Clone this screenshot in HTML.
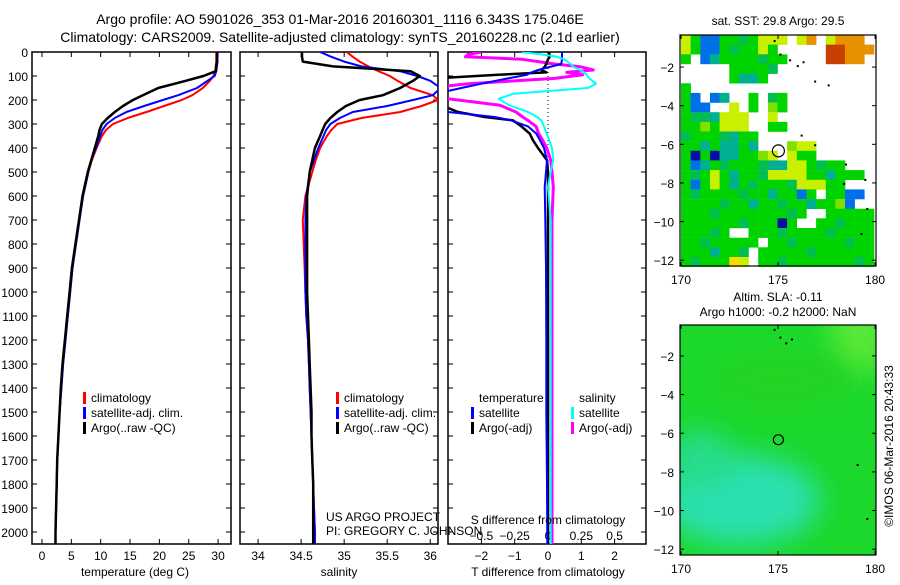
<!DOCTYPE html>
<html><head><meta charset="utf-8"><style>
body{margin:0;background:#fff;font-family:"Liberation Sans",sans-serif}
svg text{font-family:"Liberation Sans",sans-serif;fill:#000}
</style></head><body>
<svg id="c" width="900" height="580" viewBox="0 0 900 580" xmlns="http://www.w3.org/2000/svg">
<defs>
<clipPath id="cp1"><rect x="32" y="52" width="199" height="492"/></clipPath>
<clipPath id="cp2"><rect x="240" y="52" width="198" height="492"/></clipPath>
<clipPath id="cp3"><rect x="448" y="52" width="198" height="492"/></clipPath>
<clipPath id="cpm2"><rect x="680" y="325" width="196" height="230"/></clipPath>
<filter id="blur" x="-50%" y="-50%" width="200%" height="200%"><feGaussianBlur stdDeviation="14"/></filter>
</defs>
<text x="340" y="24" text-anchor="middle" font-size="14">Argo profile: AO 5901026_353 01-Mar-2016 20160301_1116 6.343S 175.046E</text>
<text x="340" y="42" text-anchor="middle" font-size="14">Climatology: CARS2009. Satellite-adjusted climatology: synTS_20160228.nc (2.1d earlier)</text>
<g id="g"></g>
</svg>
<script>
// ---------- data ----------
const depths = [0,20,40,60,80,100,120,150,180,200,225,250,275,300,325,350,400,450,500,600,700,800,900,1000,1100,1200,1300,1400,1500,1600,1700,1800,1900,2000,2050];
const tempClim = [29.7,29.7,29.7,29.6,29.5,29.2,28.6,27.4,25.6,23.8,20.8,17.8,14.6,12.1,10.9,10.2,9.3,8.5,7.9,7.0,6.4,5.8,5.2,4.8,4.4,4.0,3.6,3.3,3.0,2.8,2.6,2.5,2.4,2.3,2.3];
const tempSat  = [29.9,29.9,29.9,29.8,29.7,29.4,28.2,26.4,23.2,20.6,17.4,14.4,12.4,11.0,10.3,9.9,9.2,8.4,7.9,7.0,6.4,5.8,5.2,4.8,4.4,4.0,3.6,3.3,3.0,2.8,2.6,2.5,2.4,2.3,2.3];
const tempArgo = [29.8,29.8,29.8,29.7,29.6,27.5,24.5,19.8,17.2,15.5,13.8,12.4,11.2,10.2,9.8,9.6,9.0,8.4,7.8,6.9,6.3,5.7,5.1,4.7,4.3,3.9,3.5,3.2,3.0,2.8,2.6,2.5,2.4,2.3,2.3];
const salClim = [35.03,35.10,35.18,35.28,35.40,35.53,35.62,35.77,36.03,36.09,35.90,35.65,35.20,34.92,34.85,34.80,34.72,34.67,34.63,34.55,34.52,34.53,34.54,34.55,34.56,34.58,34.59,34.60,34.61,34.62,34.63,34.64,34.65,34.66,34.66];
const salSat  = [34.72,34.85,35.00,35.20,35.65,35.85,36.00,36.12,36.03,35.80,35.50,35.10,34.95,34.84,34.79,34.76,34.70,34.65,34.60,34.56,34.55,34.55,34.55,34.55,34.56,34.58,34.59,34.60,34.61,34.62,34.63,34.64,34.65,34.66,34.66];
const salArgo = [34.51,34.51,34.52,34.87,35.77,35.88,35.80,35.65,35.45,35.18,35.02,34.92,34.84,34.78,34.75,34.72,34.66,34.63,34.60,34.57,34.57,34.57,34.57,34.57,34.58,34.59,34.60,34.61,34.62,34.62,34.63,34.64,34.64,34.64,34.64];
const dDepths = [0,10,20,30,50,62,75,85,95,110,132,150,174,195,222,250,271,285,310,340,368,400,451,500,562,700,900,1200,1500,1800,2050];
const tDiffSat  = [0.42,0.42,0.42,0.42,0.40,0.06,-0.3,-0.5,-0.63,-1.2,-2.0,-2.6,-3.4,-3.4,-3.4,-3.0,-1.6,-1.1,-0.6,-0.35,-0.24,-0.12,-0.03,-0.06,-0.1,-0.08,-0.06,-0.05,-0.05,-0.03,-0.02];
const tDiffArgo = [0.0,0.05,0.05,0.0,-0.05,-0.1,-0.2,-0.05,-1.5,-3.4,-3.4,-3.4,-3.4,-3.4,-3.2,-2.7,-1.9,-1.05,-0.8,-0.55,-0.45,-0.3,-0.03,0.0,0.0,0.0,0.0,0.0,0.0,0.0,0.0];
const sDiffSat  = [-0.2,-0.05,0.07,0.12,0.17,0.19,0.24,0.27,0.29,0.31,0.36,0.30,-0.26,-0.37,-0.29,-0.15,-0.08,-0.05,-0.03,-0.01,0.01,0.03,0.04,0.02,0.0,0.02,0.02,0.02,0.02,0.02,0.02];
const sDiffArgo = [-0.5,-0.6,-0.62,-0.2,0.05,0.25,0.34,0.14,0.26,0.05,-0.6,-0.9,-0.9,-0.75,-0.36,-0.24,-0.19,-0.15,-0.09,-0.07,-0.04,-0.01,0.02,0.03,0.04,0.03,0.03,0.03,0.03,0.03,0.03];
const depthTicks = [0,100,200,300,400,500,600,700,800,900,1000,1100,1200,1300,1400,1500,1600,1700,1800,1900,2000];
const tempTicks = [0,5,10,15,20,25,30];
const salTicks = [34,34.5,35,35.5,36];
const salTickLabels = ["34","34.5","35","35.5","36"];
const tdTicks = [-2,-1,0,1,2];
const sdTicks = [-0.5,-0.25,0,0.25,0.5];
const sdTickLabels = ["\u22120.5","\u22120.25","0","0.25","0.5"];
const mapLonTicks = [170,175,180];
const mapLatTicks = [-2,-4,-6,-8,-10,-12];
const sstRows = [
"ygbbgghgyyywyowyooow",
"ygbbghggygwwwwwrrooo",
"gwbtgggghggwwwwrroow",
"wwwwwgggghwwwwwwwwww",
"wwwwwgttgwwwwwwwwwww",
"gwwwwwwwwwwwwwwwwwww",
"gbwbtwwgwhgwwwwwwwww",
"gbbwwywgwlgwwwwwwwww",
"ghhtyyywwywwwwwwwwww",
"gglgyyywwggwwwwwwwww",
"hggghtggwwwwwwwwwwww",
"ggtgttgtwwwlyywwwwww",
"gdgdttgglywyggwwwwww",
"gbtghggghttyyghggwww",
"ghgygtgghyyyyggtgggw",
"gbgygtghggghyyyggwww",
"ghgggghggtggbgwggbbw",
"gggghggtgghggtgglbww",
"ggghggggggghgwwggggg",
"gggggghgggdgwwgghggg",
"ggghgwwggghgggghgggg",
"gghgggggwgghggggghgg",
"gggtgghwggggghgggggg",
"ghgggeywgghggggggghg"];
const sstPalette = {g:"#00d400",h:"#00bf50",t:"#00b090",y:"#c8f000",l:"#80e000",b:"#0070e8",d:"#0010a0",o:"#e89000",r:"#c84000",e:"#ffd800"};
const argoLon = 175.046, argoLat = -6.343;
const coastPts = [[174.8,-0.6],[175.1,-1.3],[175.6,-1.6],[176.0,-1.9],[176.3,-1.7],[176.9,-2.7],[177.6,-2.9],[176.2,-5.5],[176.9,-6.0],[178.5,-7.0],[179.5,-7.8],[179.6,-9.3],[179.3,-10.6],[178.4,-8.0]];
const slaCoastPts = [[174.8,-0.6],[175.1,-1.0],[175.4,-1.3],[175.7,-1.1],[179.1,-7.6],[179.6,-10.4]];

// ---------- helpers ----------
const NS="http://www.w3.org/2000/svg";
const G=document.getElementById('g');
function mk(tag,attrs,parent){const e=document.createElementNS(NS,tag);for(const k in attrs)e.setAttribute(k,attrs[k]);(parent||G).appendChild(e);return e;}
function txt(x,y,s,size,anchor,parent){const t=mk('text',{x:x,y:y,'font-size':size,'text-anchor':anchor||'start'},parent);t.textContent=s;return t;}
const yD = d => 52 + (d/2050)*492;
const xT = v => 32 + (v+1.7)/33.9*199;
const xS = v => 240 + (v-33.79)/2.3*198;
const xTD = v => 548 + v*33.3;
const xSD = v => 548 + v*133.3;

function panelFrame(x0,w,name){
  const r=mk('rect',{x:x0,y:52,width:w,height:492,fill:'none',stroke:'#000','stroke-width':1.5});
  
  
  depthTicks.forEach(d=>{
    mk('line',{x1:x0,x2:x0+5,y1:yD(d),y2:yD(d),stroke:'#000'});
    mk('line',{x1:x0+w-5,x2:x0+w,y1:yD(d),y2:yD(d),stroke:'#000'});
  });
}
function line(xs,ys,fx,color,w,clip,name){
  const p=xs.map((v,i)=>(i?'L':'M')+fx(v).toFixed(1)+','+yD(ys[i]).toFixed(1)).join('');
  const e=mk('path',{d:p,fill:'none',stroke:color,'stroke-width':w,'clip-path':'url(#'+clip+')','stroke-linejoin':'round'});
  
  
}
function legend(x,y,items){
  items.forEach((it,i)=>{
    if(it[0]) mk('rect',{x:x,y:y+i*15-10,width:3,height:12,fill:it[0]});
    const t=txt(x+8,y+i*15,it[1],12);
    
    
  });
}

depthTicks.forEach(d=>{const t=txt(28,yD(d)+5,String(d),12,'end');

});

// panel 1 temperature
panelFrame(32,199,'temperature-panel');
tempTicks.forEach(v=>{mk('line',{x1:xT(v),x2:xT(v),y1:544,y2:539,stroke:'#000'});mk('line',{x1:xT(v),x2:xT(v),y1:52,y2:57,stroke:'#000'});
const t=txt(xT(v),560,String(v),12,'middle');

});
line(tempClim,depths,xT,'#f00',2,'cp1','temp-climatology-line');
line(tempSat,depths,xT,'#00f',2,'cp1','temp-satellite-line');
line(tempArgo,depths,xT,'#000',2.5,'cp1','temp-argo-line');
legend(83,402,[['#f00','climatology'],['#00f','satellite-adj. clim.'],['#000','Argo(..raw -QC)']]);
let xl=txt(135,576,'temperature (deg C)',12,'middle');



// panel 2 salinity
panelFrame(240,198,'salinity-panel');
salTicks.forEach((v,i)=>{mk('line',{x1:xS(v),x2:xS(v),y1:544,y2:539,stroke:'#000'});mk('line',{x1:xS(v),x2:xS(v),y1:52,y2:57,stroke:'#000'});
const t=txt(xS(v),560,salTickLabels[i],12,'middle');

});
line(salClim,depths,xS,'#f00',2,'cp2','sal-climatology-line');
line(salSat,depths,xS,'#00f',2,'cp2','sal-satellite-line');
line(salArgo,depths,xS,'#000',2.5,'cp2','sal-argo-line');
legend(336,402,[['#f00','climatology'],['#00f','satellite-adj. clim.'],['#000','Argo(..raw -QC)']]);
xl=txt(339,576,'salinity',12,'middle');



// panel 3 differences
panelFrame(448,198,'difference-panel');
tdTicks.forEach(v=>{mk('line',{x1:xTD(v),x2:xTD(v),y1:544,y2:539,stroke:'#000'});mk('line',{x1:xTD(v),x2:xTD(v),y1:52,y2:57,stroke:'#000'});
const t=txt(xTD(v),560,v<0?'\u2212'+(-v):String(v),12,'middle');

});
sdTicks.forEach((v,i)=>{const t=txt(xSD(v),540,sdTickLabels[i],12,'middle');

});
mk('line',{x1:548,x2:548,y1:52,y2:544,stroke:'#000','stroke-dasharray':'1,3'});
line(sDiffArgo,dDepths,xSD,'#f0f',3,'cp3','sdiff-argo-line');
line(tDiffArgo,dDepths,xTD,'#000',2.5,'cp3','tdiff-argo-line');
line(tDiffSat,dDepths,xTD,'#00f',2,'cp3','tdiff-satellite-line');
line(sDiffSat,dDepths,xSD,'#0ff',2,'cp3','sdiff-satellite-line');
legend(471,402,[[null,'temperature'],['#00f','satellite'],['#000','Argo(-adj)']]);
legend(571,402,[[null,'salinity'],['#0ff','satellite'],['#f0f','Argo(-adj)']]);
xl=txt(548,524,'S difference from climatology',12,'middle');


xl=txt(548,576,'T difference from climatology',12,'middle');


xl=txt(326,521,'US ARGO PROJECT',12);


xl=txt(326,535,'PI: GREGORY C. JOHNSON',12);



// maps
function mapAxes(y0,h,latTop,name){
  const mx=v=>680+(v-170)/10.1*196+1;
  const my=v=>y0+(latTop-v)/(latTop+12.3)*h;
  const r=mk('rect',{x:680,y:y0,width:196,height:h,fill:'none',stroke:'#000','stroke-width':1.2});
  
  
  mapLonTicks.forEach(v=>{mk('line',{x1:mx(v),x2:mx(v),y1:y0+h,y2:y0+h-4,stroke:'#000'});mk('line',{x1:mx(v),x2:mx(v),y1:y0,y2:y0+4,stroke:'#000'});
  const t=txt(mx(v),y0+h+18,String(v),12,'middle');
  
  });
  mapLatTicks.forEach(v=>{mk('line',{x1:680,x2:684,y1:my(v),y2:my(v),stroke:'#000'});mk('line',{x1:872,x2:876,y1:my(v),y2:my(v),stroke:'#000'});
  const t=txt(674,my(v)+5,'\u2212'+(-v),12,'end');
  
  });
  return [mx,my];
}
(function(){
  const mx=v=>681+(v-170)*19.3, my=v=>35+(-0.34-v)*19.3;
  sstRows.forEach((row,i)=>{
    [...row].forEach((ch,j)=>{
      if(ch==='w')return;
      const c=mk('rect',{x:mx(170+j*0.5).toFixed(1),y:my(-0.34-i*0.5).toFixed(1),width:9.9,height:9.9,fill:sstPalette[ch]});
      
      
    });
  });
  coastPts.forEach(p=>mk('rect',{x:mx(p[0]),y:my(p[1]),width:2,height:2,fill:'#000'}));
  const c=mk('circle',{cx:mx(argoLon),cy:my(argoLat),r:6,fill:'none',stroke:'#000','stroke-width':1.2});
  
  
})();
mapAxes(35,231,-0.34,'sst-map');
let t=txt(778,25,'sat. SST: 29.8 Argo: 29.5',12,'middle');



(function(){
  const gg=mk('g',{'clip-path':'url(#cpm2)'});
  mk('rect',{x:680,y:325,width:196,height:230,fill:'#1cd82c'},gg);
  mk('ellipse',{cx:740,cy:500,rx:80,ry:45,fill:'#2ce0b0',filter:'url(#blur)'},gg);
  mk('ellipse',{cx:700,cy:460,rx:30,ry:30,fill:'#26dc90',filter:'url(#blur)'},gg);
  mk('ellipse',{cx:860,cy:335,rx:30,ry:40,fill:'#5ae838',filter:'url(#blur)'},gg);
  mk('ellipse',{cx:780,cy:380,rx:70,ry:30,fill:'#20d424',filter:'url(#blur)'},gg);
  const mx=v=>681+(v-170)*19.3, my=v=>325+(-0.4-v)*19.3;
  slaCoastPts.forEach(p=>mk('rect',{x:mx(p[0]),y:my(p[1]),width:2,height:2,fill:'#000'}));
  const c=mk('circle',{cx:mx(argoLon),cy:my(argoLat),r:5,fill:'none',stroke:'#000','stroke-width':1.2});
  
  
})();
mapAxes(325,230,-0.4,'sla-map');
t=txt(778,301,'Altim. SLA: -0.11',12,'middle');


t=txt(778,316,'Argo h1000: -0.2 h2000: NaN',12,'middle');


t=txt(0,0,'\u00a9IMOS 06-Mar-2016 20:43:33',12,'middle');
t.setAttribute('transform','translate(893,446) rotate(-90)');


</script>
</body></html>
